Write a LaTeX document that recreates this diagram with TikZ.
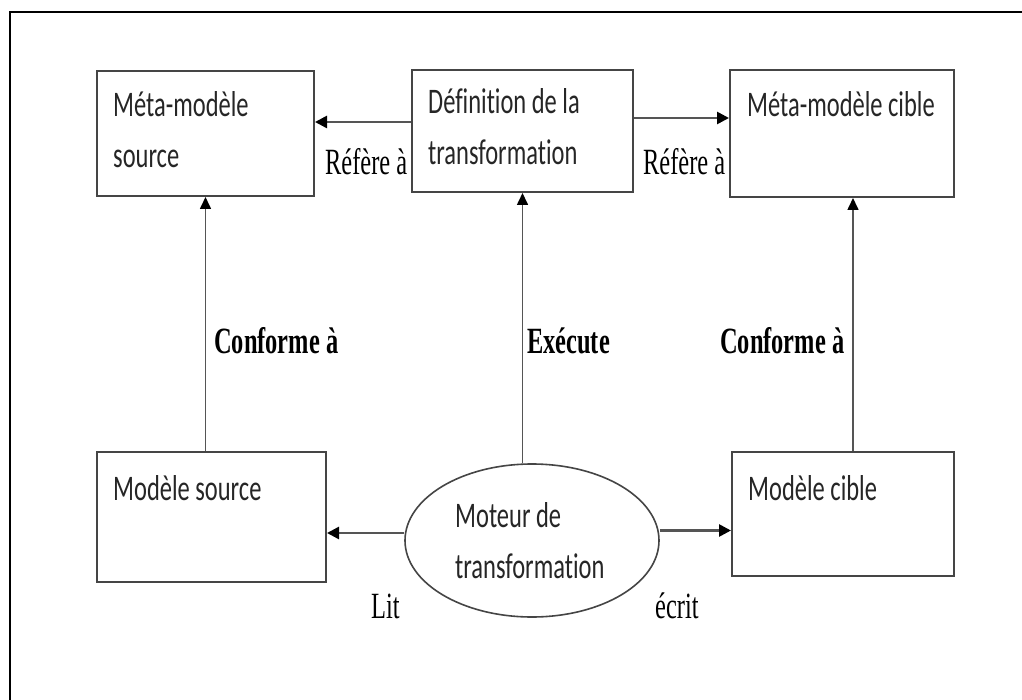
\documentclass[tikz,border=0pt]{standalone}
\usepackage{fontspec}
\setmainfont{Liberation Serif}
\newfontfamily\boxfont[FakeStretch=0.68,Ligatures=NoCommon]{Carlito}
\newfontfamily\labfont[FakeStretch=0.66]{Liberation Serif}
\usetikzlibrary{arrows.meta,shapes.geometric,calc}
\definecolor{boxline}{HTML}{454545}
\definecolor{conn}{HTML}{555555}
\definecolor{txt}{HTML}{262626}
\begin{document}
\begin{tikzpicture}[x=1pt,y=-1pt,
  boxshape/.style={draw=boxline,line width=2pt,rectangle,inner sep=0pt},
  boxtext/.style={anchor=base west,inner sep=0pt,align=left,text=txt,
    font=\boxfont\fontsize{36}{51}\selectfont},
  lab/.style={inner sep=0pt,anchor=base west,text=black,
    font=\labfont\fontsize{37}{44}\selectfont},
  blab/.style={lab,font=\labfont\bfseries\fontsize{37}{44}\selectfont},
  arr/.style={draw=conn,line width=2.6pt,-{Triangle[length=12pt,width=12pt,color=black]}},
  varr/.style={draw=conn,line width=1.6pt,-{Triangle[length=12pt,width=11pt,color=black]}}
]
\useasboundingbox (0,0) rectangle (1022,700);
\fill[white] (0,0) rectangle (1022,700);
% frame
\draw[line width=2.5pt,black] (10,700) -- (10,12) -- (1022,12);

% boxes
\node[boxshape,minimum width=217pt,minimum height=125pt] (msrc) at (205.5,133.5) {};
\node[boxshape,minimum width=221pt,minimum height=122pt] (def) at (522.5,131) {};
\node[boxshape,minimum width=224pt,minimum height=127pt] (mcib) at (842,133.5) {};
\node[boxshape,minimum width=229pt,minimum height=130pt] (msrc2) at (211.5,517) {};
\node[boxshape,minimum width=222pt,minimum height=124pt] (mcib2) at (843,514) {};
\node[draw=boxline,line width=1.6pt,ellipse,minimum width=254pt,minimum height=153pt,inner sep=0pt] (eng) at (532,540.5) {};

% box texts (base anchor = baseline of last line)
\node[boxtext] (tmsrc) at (113,168) {Méta-modèle\\source};
\node[boxtext] (tdef) at (428,165) {Définition de la\\transformation};
\node[boxtext] (tmcib) at (747,117) {Méta-modèle cible};
\node[boxtext] (tmsrc2) at (113,500) {Modèle source};
\node[boxtext] (tmcib2) at (748,500) {Modèle cible};
\node[boxtext] (teng) at (455,578) {Moteur de\\transformation};

% connectors
\draw[arr] ([yshift=9pt]def.west) -- ([yshift=9pt]def.west -| msrc.east);
\draw[arr] ([yshift=13pt]def.east) -- ([yshift=13pt]def.east -| mcib.west);
\draw[arr] ([yshift=7.5pt]eng.west) -- ([yshift=7.5pt]eng.west -| msrc2.east);
\draw[arr] ([yshift=10pt]eng.east) -- ([yshift=10pt]eng.east -| mcib2.west);
\draw[varr] (msrc.south |- msrc2.north) -- (msrc.south);
\draw[varr] (def.south |- eng.north) -- (def.south);
\draw[varr] ([xshift=11pt]mcib.south |- mcib2.north) -- ([xshift=11pt]mcib.south);

% labels
\node[lab] (l1) at (325,175) {Réfère à};
\node[lab] (l2) at (643,175) {Réfère à};
\node[blab] (l3) at (214,353) {Conforme à};
\node[blab] (l4) at (527,353) {Exécute};
\node[blab] (l5) at (720,353) {Conforme à};
\node[lab] (l6) at (371,618) {Lit};
\node[lab] (l7) at (655,618) {écrit};
\end{tikzpicture}
\end{document}
